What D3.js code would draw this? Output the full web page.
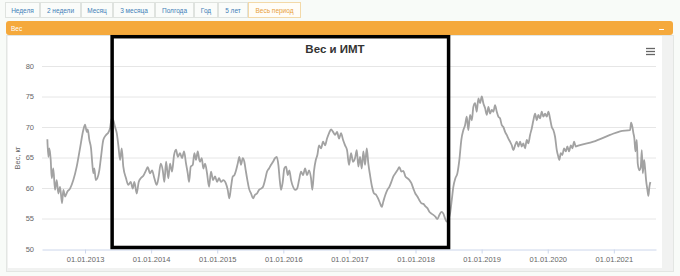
<!DOCTYPE html>
<html>
<head>
<meta charset="utf-8">
<script src="https://cdn.jsdelivr.net/npm/d3@7"></script>
<style>
  body { margin: 0; background: #f8fbf8; font-family: "Liberation Sans", Arial, sans-serif; }
</style>
</head>
<body>
<svg id="chart" width="680" height="276"></svg>
<script>
// range buttons and panel text
const periodButtons = ["Неделя", "2 недели", "Месяц", "3 месяца", "Полгода", "Год", "5 лет", "Весь период"];
const activeButton = "Весь период";
const panelTitle = "Вес";
const chartTitle = "Вес и ИМТ";
const yTitle = "Вес, кг";

// axis ticks
const yTicks = [50, 55, 60, 65, 70, 75, 80];
const xTickYears = [2013, 2014, 2015, 2016, 2017, 2018, 2019, 2020, 2021];

// weight series (decimal year, kg)
const years = [
  2012.430, 2012.445, 2012.460, 2012.481, 2012.496, 2012.520, 2012.546, 2012.572, 2012.596, 2012.622,
  2012.652, 2012.672, 2012.697, 2012.732, 2012.773, 2012.823, 2012.874, 2012.924, 2012.974, 2013.000,
  2013.026, 2013.041, 2013.065, 2013.091, 2013.110, 2013.126, 2013.141, 2013.162, 2013.186, 2013.216,
  2013.242, 2013.277, 2013.318, 2013.353, 2013.378, 2013.404, 2013.428, 2013.454, 2013.480, 2013.504,
  2013.530, 2013.555, 2013.579, 2013.620, 2013.655, 2013.691, 2013.722, 2013.746, 2013.782, 2013.812,
  2013.843, 2013.882, 2013.923, 2013.949, 2013.983, 2014.014, 2014.049, 2014.085, 2014.115, 2014.145,
  2014.176, 2014.200, 2014.226, 2014.260, 2014.286, 2014.316, 2014.347, 2014.377, 2014.403, 2014.437,
  2014.468, 2014.498, 2014.528, 2014.554, 2014.574, 2014.599, 2014.630, 2014.654, 2014.679, 2014.705,
  2014.729, 2014.740, 2014.766, 2014.790, 2014.816, 2014.846, 2014.876, 2014.906, 2014.937, 2014.967,
  2014.997, 2015.027, 2015.058, 2015.092, 2015.129, 2015.159, 2015.183, 2015.209, 2015.235, 2015.259,
  2015.285, 2015.310, 2015.334, 2015.360, 2015.386, 2015.410, 2015.431, 2015.456, 2015.481, 2015.512,
  2015.542, 2015.572, 2015.602, 2015.633, 2015.663, 2015.693, 2015.723, 2015.754, 2015.784, 2015.814,
  2015.844, 2015.875, 2015.900, 2015.925, 2015.946, 2015.965, 2015.991, 2016.015, 2016.041, 2016.067,
  2016.091, 2016.117, 2016.147, 2016.177, 2016.208, 2016.238, 2016.268, 2016.298, 2016.329, 2016.359,
  2016.389, 2016.419, 2016.439, 2016.465, 2016.491, 2016.515, 2016.540, 2016.571, 2016.601, 2016.631,
  2016.661, 2016.692, 2016.722, 2016.752, 2016.783, 2016.813, 2016.843, 2016.873, 2016.903, 2016.934,
  2016.964, 2016.994, 2017.024, 2017.055, 2017.085, 2017.111, 2017.135, 2017.161, 2017.186, 2017.211,
  2017.236, 2017.262, 2017.286, 2017.312, 2017.342, 2017.373, 2017.403, 2017.433, 2017.463, 2017.489,
  2017.513, 2017.544, 2017.574, 2017.604, 2017.634, 2017.665, 2017.695, 2017.725, 2017.755, 2017.786,
  2017.816, 2017.846, 2017.876, 2017.907, 2017.937, 2017.967, 2017.997, 2018.028, 2018.058, 2018.088,
  2018.118, 2018.149, 2018.179, 2018.209, 2018.240, 2018.270, 2018.300, 2018.330, 2018.361, 2018.391,
  2018.421, 2018.447, 2018.472, 2018.522, 2018.548, 2018.572, 2018.603, 2018.633, 2018.663, 2018.693,
  2018.724, 2018.749, 2018.775, 2018.799, 2018.825, 2018.851, 2018.875, 2018.901, 2018.926, 2018.951,
  2018.976, 2019.002, 2019.026, 2019.052, 2019.078, 2019.102, 2019.128, 2019.153, 2019.178, 2019.203,
  2019.229, 2019.253, 2019.279, 2019.305, 2019.329, 2019.355, 2019.380, 2019.405, 2019.430, 2019.456,
  2019.480, 2019.506, 2019.531, 2019.556, 2019.582, 2019.607, 2019.631, 2019.657, 2019.683, 2019.707,
  2019.733, 2019.759, 2019.783, 2019.809, 2019.834, 2019.858, 2019.884, 2019.910, 2019.934, 2019.960,
  2019.985, 2020.010, 2020.035, 2020.061, 2020.085, 2020.111, 2020.137, 2020.161, 2020.176, 2020.197,
  2020.221, 2020.247, 2020.273, 2020.297, 2020.323, 2020.349, 2020.373, 2020.399, 2020.424, 2020.449,
  2020.691, 2020.943, 2021.095, 2021.246, 2021.261, 2021.281, 2021.296, 2021.311, 2021.326, 2021.347,
  2021.362, 2021.387, 2021.408, 2021.423, 2021.438, 2021.458, 2021.473, 2021.488, 2021.508, 2021.523,
  2021.538, 2021.553
];
const weights = [
  68.0, 65.1, 66.5, 64.6, 61.6, 63.2, 59.7, 61.3, 59.1, 60.2,
  57.5, 59.7, 58.6, 59.4, 59.9, 61.3, 63.5, 66.5, 69.5, 70.4,
  69.2, 69.6, 67.9, 66.5, 64.0, 62.4, 63.2, 61.3, 61.6, 62.9,
  65.1, 67.9, 68.7, 69.1, 69.8, 71.4, 71.1, 70.0, 69.0, 67.0,
  64.6, 66.5, 63.5, 61.6, 60.5, 61.0, 59.9, 61.0, 59.1, 61.0,
  61.6, 62.0, 62.9, 63.4, 62.4, 62.9, 61.6, 60.5, 61.9, 64.0,
  62.9, 61.0, 64.3, 61.6, 64.0, 62.7, 65.4, 66.3, 65.1, 65.7,
  64.9, 66.0, 64.0, 62.4, 61.0, 63.5, 63.8, 65.7, 64.6, 66.0,
  64.6, 64.3, 64.9, 63.2, 64.0, 62.4, 60.2, 62.7, 61.3, 61.9,
  61.0, 61.6, 61.0, 61.3, 60.8, 59.7, 58.3, 60.2, 61.9, 62.1,
  62.9, 64.0, 65.1, 63.8, 64.9, 64.3, 62.9, 61.3, 59.9, 59.1,
  58.3, 58.9, 59.1, 59.7, 59.9, 60.2, 61.3, 62.7, 63.2, 63.8,
  64.3, 64.9, 65.1, 63.8, 61.3, 59.7, 61.0, 63.2, 63.5, 62.1,
  62.9, 61.3, 60.2, 59.7, 59.9, 61.3, 62.7, 62.1, 63.2, 62.1,
  62.9, 61.6, 59.7, 62.9, 64.6, 65.4, 67.0, 66.5, 67.6, 67.0,
  68.1, 69.0, 69.6, 69.2, 68.7, 69.2, 68.1, 69.0, 67.9, 67.0,
  66.2, 63.8, 65.7, 64.3, 64.9, 66.2, 63.5, 65.1, 63.2, 66.0,
  63.8, 66.5, 64.0, 62.1, 60.2, 59.1, 58.9, 58.3, 57.5, 56.9,
  57.8, 58.9, 59.7, 60.2, 61.0, 61.9, 62.4, 62.9, 63.4, 62.7,
  62.8, 61.9, 61.6, 61.3, 60.8, 59.9, 59.1, 58.6, 58.0, 57.5,
  57.4, 57.0, 56.7, 56.1, 55.8, 55.6, 55.3, 54.9, 55.6, 56.1,
  55.8, 55.0, 54.5, 55.8, 58.0, 60.2, 61.6, 62.4, 64.6, 67.9,
  69.5, 70.3, 71.7, 69.5, 72.0, 71.1, 73.3, 73.9, 72.5, 74.7,
  73.9, 75.0, 73.9, 73.1, 72.0, 73.3, 72.2, 72.8, 72.5, 73.6,
  72.5, 71.7, 71.4, 70.3, 70.0, 69.2, 68.7, 68.1, 67.6, 67.0,
  66.2, 67.0, 67.6, 66.8, 67.6, 66.8, 67.3, 66.5, 67.9, 67.3,
  68.7, 69.8, 71.1, 72.2, 71.1, 72.0, 71.4, 72.5, 71.7, 72.2,
  71.7, 72.5, 71.4, 70.0, 69.5, 68.4, 66.2, 65.1, 64.6, 65.7,
  65.4, 66.5, 66.0, 66.8, 66.0, 67.0, 66.5, 67.6, 66.8, 66.9,
  67.6, 68.7, 69.3, 69.5, 70.7, 70.0, 69.0, 68.1, 66.0, 67.9,
  64.0, 62.9, 63.5, 66.2, 62.4, 64.6, 63.2, 61.3, 59.7, 58.7,
  60.2, 61.0
];

// highlighted box drawn over the chart (x from/to in years, y from/to in kg)
const boxYears = [2013.41, 2018.50];
const boxKg = [50.25, 84.8];

const svg = d3.select("#chart");

// ---- toolbar ----
const btnWidths = [35, 41, 32, 42, 39, 24, 30, 53];
let bx = 5;
periodButtons.forEach(function(label, i) {
  const active = label === activeButton;
  svg.append("rect")
    .attr("x", bx + 0.5).attr("y", 2.5)
    .attr("width", btnWidths[i] - 1).attr("height", 15)
    .attr("fill", active ? "#fffdf8" : "#fafcfa")
    .attr("stroke", active ? "#f3d9a8" : "#dfe3df");
  svg.append("text")
    .attr("x", bx + btnWidths[i] / 2).attr("y", 12.5)
    .attr("text-anchor", "middle")
    .attr("font-size", 6.5)
    .attr("fill", active ? "#e8a13a" : "#3f7fb8")
    .text(label);
  bx += btnWidths[i];
});

// ---- orange panel header ----
svg.append("rect")
  .attr("x", 6).attr("y", 21).attr("width", 667).attr("height", 14)
  .attr("rx", 3).attr("fill", "#f5a93c");
svg.append("text")
  .attr("x", 11).attr("y", 30.5)
  .attr("font-size", 6.5).attr("fill", "#fff")
  .text(panelTitle);
svg.append("line")
  .attr("x1", 659).attr("x2", 664).attr("y1", 29.5).attr("y2", 29.5)
  .attr("stroke", "#fff").attr("stroke-width", 1);

// ---- panel body ----
svg.append("rect")
  .attr("x", 6.5).attr("y", 35.5).attr("width", 667).attr("height", 236)
  .attr("fill", "#f1f2f1").attr("stroke", "#e3e6e3");
svg.append("rect")
  .attr("x", 8).attr("y", 36).attr("width", 654).attr("height", 232)
  .attr("fill", "#fff");

// ---- scales ----
const x = d3.scaleLinear().domain([2012.349, 2021.638]).range([42, 656]);
const y = d3.scaleLinear().domain([50, 80]).range([249, 66]);

// grid
svg.append("g")
  .selectAll("line")
  .data(yTicks.slice(1))
  .join("line")
  .attr("x1", 42).attr("x2", 656)
  .attr("y1", d => y(d) + 0.5).attr("y2", d => y(d) + 0.5)
  .attr("stroke", "#e6e6e6");

// y axis labels
svg.append("g")
  .selectAll("text")
  .data(yTicks)
  .join("text")
  .attr("x", 34).attr("y", d => y(d) + 2.5)
  .attr("text-anchor", "end")
  .attr("font-size", 7.5).attr("fill", "#666")
  .text(d => d);

svg.append("text")
  .attr("transform", "translate(20,158) rotate(-90)")
  .attr("text-anchor", "middle")
  .attr("font-size", 7.5).attr("fill", "#666")
  .text(yTitle);

// x axis
const xAxis = d3.axisBottom(x)
  .tickValues(xTickYears)
  .tickFormat(d => "01.01." + d)
  .tickSize(4)
  .tickSizeOuter(0);
const gx = svg.append("g")
  .attr("transform", "translate(0,249.5)")
  .call(xAxis);
gx.select(".domain").attr("stroke", "#ccd6eb");
gx.selectAll(".tick line").attr("stroke", "#ccd6eb");
gx.selectAll(".tick text")
  .attr("font-size", 7.5).attr("fill", "#666")
  .attr("font-family", "Liberation Sans, Arial, sans-serif")
  .attr("y", 7);

// weight line
const series = years.map((yr, i) => ({ t: yr, v: weights[i] }));
const line = d3.line()
  .x(d => x(d.t))
  .y(d => y(d.v))
  .curve(d3.curveMonotoneX);
svg.append("path")
  .datum(series)
  .attr("d", line)
  .attr("fill", "none")
  .attr("stroke", "#a2a2a2")
  .attr("stroke-width", 1.8)
  .attr("stroke-linejoin", "round");

// title
svg.append("text")
  .attr("x", 335).attr("y", 53)
  .attr("text-anchor", "middle")
  .attr("font-size", 11.5).attr("font-weight", "bold").attr("fill", "#333")
  .text(chartTitle);

// menu icon
[0, 1, 2].forEach(function(i) {
  svg.append("line")
    .attr("x1", 646).attr("x2", 655)
    .attr("y1", 48.5 + i * 3).attr("y2", 48.5 + i * 3)
    .attr("stroke", "#666").attr("stroke-width", 1.3);
});

// highlight box
svg.append("rect")
  .attr("x", x(boxYears[0])).attr("y", y(boxKg[1]))
  .attr("width", x(boxYears[1]) - x(boxYears[0]))
  .attr("height", y(boxKg[0]) - y(boxKg[1]))
  .attr("fill", "none")
  .attr("stroke", "#000")
  .attr("stroke-width", 3.5);
</script>
</body>
</html>
